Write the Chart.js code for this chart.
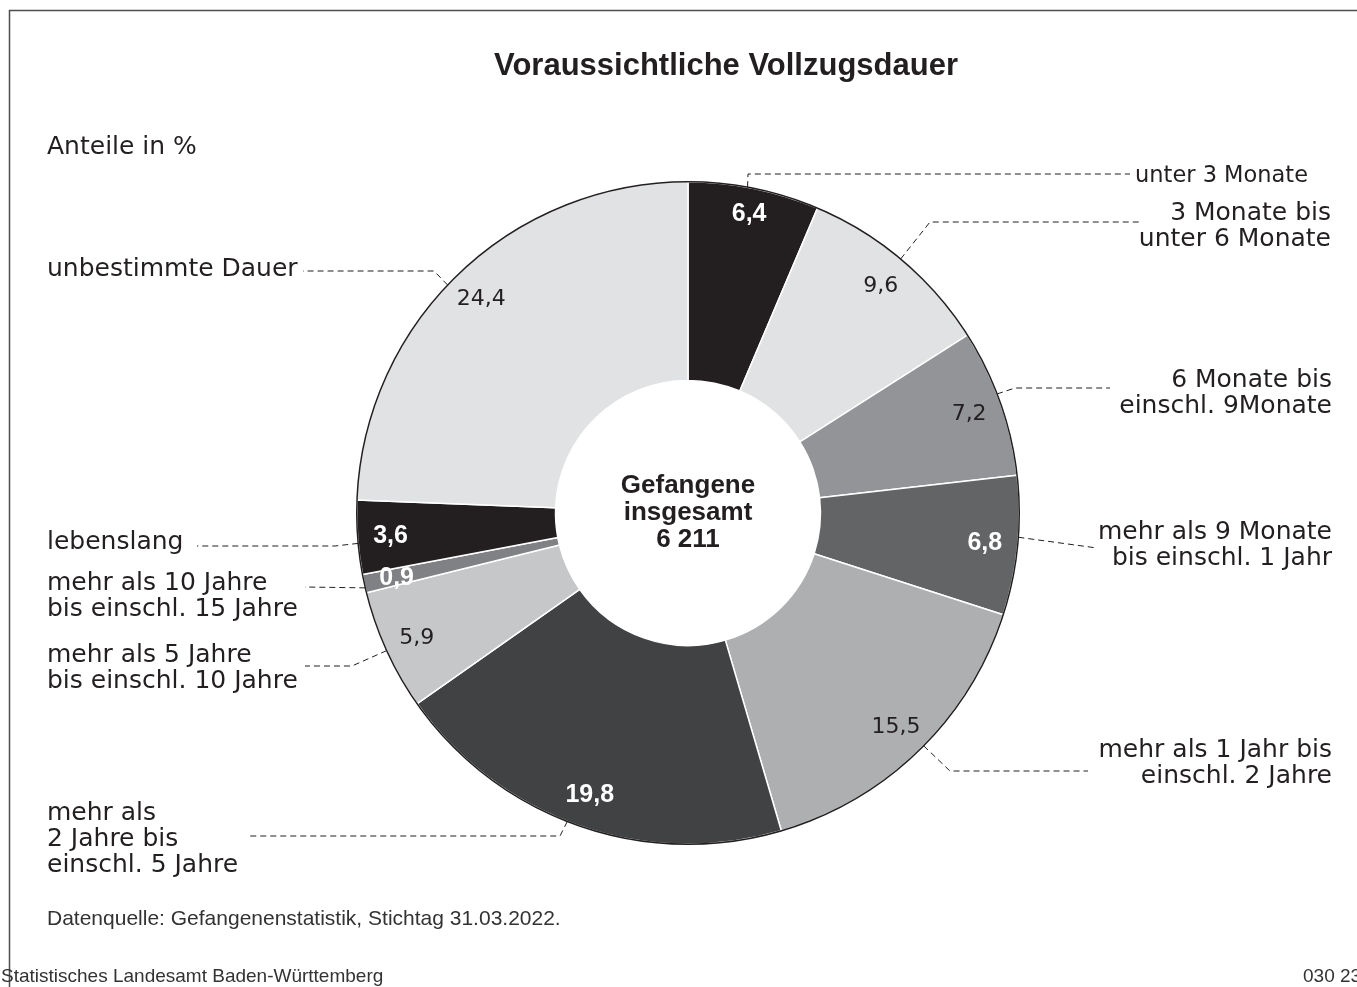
<!DOCTYPE html>
<html>
<head>
<meta charset="utf-8">
<title>Voraussichtliche Vollzugsdauer</title>
<script src="https://cdn.jsdelivr.net/npm/chart.js@4.4.1/dist/chart.umd.min.js"></script>
<style>
  html, body { margin: 0; padding: 0; background: #fff; }
  canvas { display: block; }
</style>
</head>
<body>
<canvas id="vollzug" width="1357" height="987"></canvas>
<script>
// Anteile in %, im Uhrzeigersinn ab 12 Uhr
var kategorien = [
  ["unter 3 Monate"],
  ["3 Monate bis", "unter 6 Monate"],
  ["6 Monate bis", "einschl. 9Monate"],
  ["mehr als 9 Monate", "bis einschl. 1 Jahr"],
  ["mehr als 1 Jahr bis", "einschl. 2 Jahre"],
  ["mehr als", "2 Jahre bis", "einschl. 5 Jahre"],
  ["mehr als 5 Jahre", "bis einschl. 10 Jahre"],
  ["mehr als 10 Jahre", "bis einschl. 15 Jahre"],
  ["lebenslang"],
  ["unbestimmte Dauer"]
];
var anteile = [6.4, 9.6, 7.2, 6.8, 15.5, 19.8, 5.9, 0.9, 3.6, 24.4];
var gefangeneInsgesamt = "6 211";

var farben = ["#231f20", "#e1e2e3", "#939497", "#636466", "#aeafb1",
              "#414244", "#c6c7c9", "#808184", "#231f20", "#e1e2e3"];
var wertWeiss = [true, false, false, true, false, true, false, true, true, false];

// Beschriftungen: x, Ausrichtung, Mitte der ersten Zeile, Schriftgroesse, Fuehrungslinie
// lead[0] = Stelle im Segment (0..1) am Aussenrand, danach Knickpunkte
var beschriftung = [
  { x: 1308, align: "right", y: 174, size: 22.5, lead: [0.45, [748, 174], [1130, 174]] },
  { x: 1331, align: "right", y: 211, size: 25, lead: [0.49, [930, 222], [1140, 222]] },
  { x: 1332, align: "right", y: 378, size: 25, lead: [0.44, [1015, 388], [1110, 388]] },
  { x: 1332, align: "right", y: 530, size: 25, lead: [0.44, [1097, 548]] },
  { x: 1332, align: "right", y: 748, size: 25, lead: [0.48, [950, 771], [1088, 771]] },
  { x: 47, align: "left", y: 811, size: 25, lead: [0.53, [560, 836], [248, 836]] },
  { x: 47, align: "left", y: 653, size: 25, lead: [0.5, [352, 666], [305, 666]] },
  { x: 47, align: "left", y: 581, size: 25, lead: [0.27, [305, 587]] },
  { x: 47, align: "left", y: 540, size: 25, lead: [0.42, [335, 546], [197, 546]] },
  { x: 47, align: "left", y: 267, size: 25, lead: [0.47, [434, 271], [303, 271]] }
];
// Abstand des Wertes vom Aussenrand
var wertAbstand = [25, 33, 33, 33, 33, 33, 33, 33, 33, 33];

var ink = "#231f20";
var zeilenAbstand = 26;

function komma(v) {
  return v.toFixed(1).replace(".", ",");
}

var rahmen = {
  id: "rahmen",
  beforeDraw: function (chart) {
    var c = chart.ctx;
    c.save();
    c.fillStyle = "#fff";
    c.fillRect(0, 0, chart.width, chart.height);
    c.strokeStyle = "#4d4d4f";
    c.lineWidth = 1.5;
    c.beginPath();
    c.moveTo(9.5, chart.height);
    c.lineTo(9.5, 10.5);
    c.lineTo(chart.width, 10.5);
    c.stroke();

    c.fillStyle = ink;
    c.textBaseline = "alphabetic";
    c.textAlign = "center";
    c.font = "bold 31px 'Liberation Sans'";
    c.fillText("Voraussichtliche Vollzugsdauer", 726, 75);

    c.textAlign = "left";
    c.font = "25px 'DejaVu Sans'";
    c.fillText("Anteile in %", 47, 154);

    c.font = "21px 'Liberation Sans'";
    c.fillStyle = "#333";
    c.fillText("Datenquelle: Gefangenenstatistik, Stichtag 31.03.2022.", 47, 925);
    c.font = "19px 'Liberation Sans'";
    c.fillText("Statistisches Landesamt Baden-Württemberg", 1, 982);
    c.fillText("030 23", 1303, 982);
    c.restore();
  },
  afterDatasetsDraw: function (chart) {
    var c = chart.ctx;
    var arcs = chart.getDatasetMeta(0).data;
    var cx = arcs[0].x, cy = arcs[0].y, R = arcs[0].outerRadius;

    c.save();
    // Aussenkontur
    c.strokeStyle = ink;
    c.lineWidth = 1.5;
    c.beginPath();
    c.arc(cx, cy, R, 0, Math.PI * 2);
    c.stroke();

    // Werte in den Segmenten
    c.textAlign = "center";
    c.textBaseline = "middle";
    arcs.forEach(function (arc, i) {
      var mid = (arc.startAngle + arc.endAngle) / 2;
      var r = arc.outerRadius - wertAbstand[i];
      var x = cx + Math.cos(mid) * r;
      var y = cy + Math.sin(mid) * r;
      if (wertWeiss[i]) {
        c.fillStyle = "#fff";
        c.font = "bold 25px 'Liberation Sans'";
      } else {
        c.fillStyle = ink;
        c.font = "22px 'DejaVu Sans'";
      }
      c.fillText(komma(anteile[i]), x, y + 1);
    });

    // Fuehrungslinien
    c.strokeStyle = ink;
    c.lineWidth = 1;
    c.setLineDash([6, 4]);
    arcs.forEach(function (arc, i) {
      var lead = beschriftung[i].lead;
      var a = arc.startAngle + lead[0] * (arc.endAngle - arc.startAngle);
      c.beginPath();
      c.moveTo(cx + Math.cos(a) * R, cy + Math.sin(a) * R);
      for (var k = 1; k < lead.length; k++) {
        c.lineTo(lead[k][0], lead[k][1]);
      }
      c.stroke();
    });
    c.setLineDash([]);

    // Kategorien
    c.fillStyle = ink;
    c.textBaseline = "alphabetic";
    kategorien.forEach(function (zeilen, i) {
      var b = beschriftung[i];
      c.textAlign = b.align;
      c.font = b.size + "px 'DejaVu Sans'";
      zeilen.forEach(function (t, j) {
        c.fillText(t, b.x, b.y + b.size * 0.36 + j * zeilenAbstand);
      });
    });

    // Mitte
    c.textAlign = "center";
    c.font = "bold 26px 'Liberation Sans'";
    c.fillText("Gefangene", cx, 493);
    c.fillText("insgesamt", cx, 520);
    c.fillText(gefangeneInsgesamt, cx, 547);
    c.restore();
  }
};

var ctx = document.getElementById("vollzug");
var vollzugChart = new Chart(ctx, {
  type: "doughnut",
  data: {
    labels: kategorien.map(function (z) { return z.join(" "); }),
    datasets: [{
      data: anteile,
      backgroundColor: farben,
      borderColor: "#fff",
      borderWidth: 1.5,
      hoverOffset: 0
    }]
  },
  options: {
    responsive: false,
    animation: false,
    cutout: "40%",
    layout: { padding: { left: 355, right: 336, top: 181, bottom: 142 } },
    plugins: {
      legend: { display: false },
      tooltip: { enabled: false }
    }
  },
  plugins: [rahmen]
});
</script>
</body>
</html>
